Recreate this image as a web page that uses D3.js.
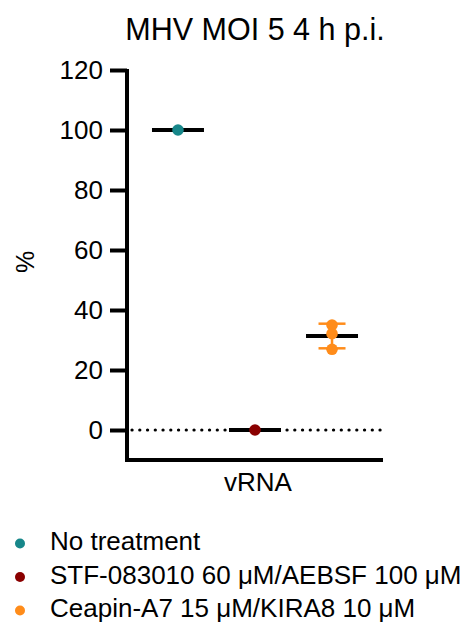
<!DOCTYPE html>
<html>
<head>
<meta charset="utf-8">
<script src="https://cdn.jsdelivr.net/npm/d3@7"></script>
<style>
  html, body { margin: 0; padding: 0; background: #fff; }
  svg { display: block; font-family: "Liberation Sans", Arial, sans-serif; }
</style>
</head>
<body>
<svg id="chart" width="475" height="626"></svg>
<script>
// ---- data ----
const title = "MHV MOI 5 4 h p.i.";
const yLabel = "%";
const category = "vRNA";
const treatments = ["No treatment", "STF-083010 60 \u03BCM/AEBSF 100 \u03BCM", "Ceapin-A7 15 \u03BCM/KIRA8 10 \u03BCM"];
const colors = ["#17878a", "#8a0000", "#ff8c1a"];
const noTreatment = [100];
const stfAebsf = [0];
const ceapinKira = [35.0, 32.1, 26.9];
const yTicks = [0, 20, 40, 60, 80, 100, 120];

const seriesValues = [noTreatment, stfAebsf, ceapinKira];

const svg = d3.select("#chart");

// scales
const y = d3.scaleLinear().domain([0, 120]).range([430, 70]);
const xOuter = d3.scaleBand().domain([category]).range([127, 383]);
const x = d3.scaleBand().domain(treatments).range([127, 383]).paddingInner(0).paddingOuter(0.162);
const xc = t => x(t) + x.bandwidth() / 2;
const baseY = 460;

// title
svg.append("text")
  .attr("x", 255).attr("y", 40)
  .attr("text-anchor", "middle")
  .attr("font-size", 30.5)
  .attr("fill", "#000")
  .text(title);

// y axis
const yAxis = d3.axisLeft(y).tickValues(yTicks).tickSize(17).tickPadding(7);
const gy = svg.append("g").attr("transform", "translate(127,0)").call(yAxis);
gy.select(".domain").remove();
gy.selectAll(".tick line").attr("stroke", "#000").attr("stroke-width", 4);
gy.selectAll(".tick text").attr("font-size", 26).attr("fill", "#000")
  .attr("font-family", "Liberation Sans, Arial, sans-serif");

// x axis (category)
const xAxis = d3.axisBottom(xOuter).tickSize(0).tickSizeOuter(0).tickPadding(13);
const gx = svg.append("g").attr("transform", `translate(3,${baseY})`).call(xAxis);
gx.select(".domain").remove();
gx.selectAll(".tick text").attr("font-size", 26).attr("fill", "#000")
  .attr("font-family", "Liberation Sans, Arial, sans-serif");

// axis lines
svg.append("path")
  .attr("d", `M127,${y(120) - 1}V${baseY}H383`)
  .attr("fill", "none").attr("stroke", "#000").attr("stroke-width", 4)
  .attr("stroke-linejoin", "miter");

// y label
svg.append("text")
  .attr("transform", "translate(34,262) rotate(-90)")
  .attr("text-anchor", "middle")
  .attr("font-size", 25)
  .attr("fill", "#000")
  .text(yLabel);

// zero dotted line
svg.append("line")
  .attr("x1", 132).attr("x2", 383)
  .attr("y1", y(0)).attr("y2", y(0))
  .attr("stroke", "#000").attr("stroke-width", 3.2)
  .attr("stroke-linecap", "round")
  .attr("stroke-dasharray", "0.1,7.65");

// groups
treatments.forEach((t, i) => {
  const vals = seriesValues[i];
  const cx = xc(t);
  const mean = d3.mean(vals);
  const g = svg.append("g");
  if (vals.length > 1) {
    const sd = d3.deviation(vals);
    g.append("line").attr("x1", cx).attr("x2", cx)
      .attr("y1", y(mean + sd)).attr("y2", y(mean - sd))
      .attr("stroke", colors[i]).attr("stroke-width", 2.5);
    [mean + sd, mean - sd].forEach(v => {
      g.append("line").attr("x1", cx - 13.5).attr("x2", cx + 13.5)
        .attr("y1", y(v)).attr("y2", y(v))
        .attr("stroke", colors[i]).attr("stroke-width", 2.5);
    });
  }
  g.append("line").attr("x1", cx - 26).attr("x2", cx + 26)
    .attr("y1", y(mean)).attr("y2", y(mean))
    .attr("stroke", "#000").attr("stroke-width", 3.8);
  g.selectAll("circle").data(vals).join("circle")
    .attr("cx", cx).attr("cy", d => y(d)).attr("r", 5.8)
    .attr("fill", colors[i]);
});

// legend
const legend = svg.append("g");
treatments.forEach((t, i) => {
  const ly = 550 + i * 33.5;
  legend.append("circle").attr("cx", 20).attr("cy", ly - 6.5).attr("r", 5).attr("fill", colors[i]);
  legend.append("text").attr("x", 50).attr("y", ly)
    .attr("font-size", 26).attr("fill", "#000").text(t);
});
</script>
</body>
</html>
